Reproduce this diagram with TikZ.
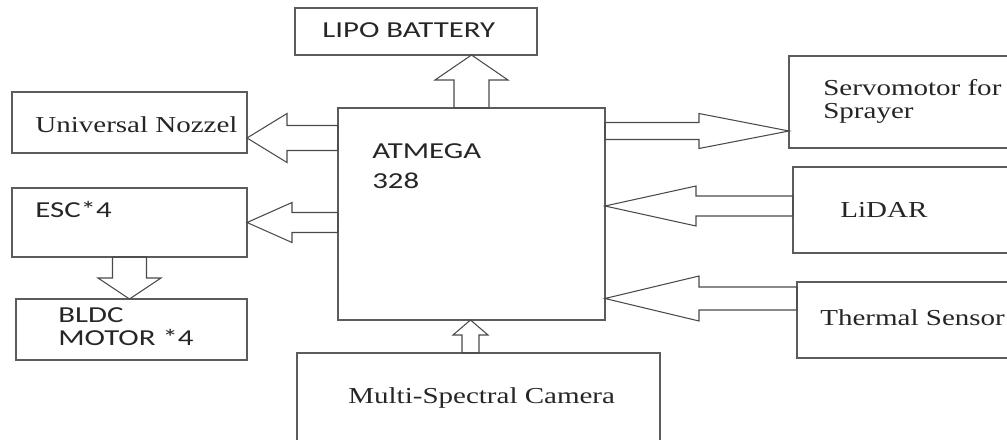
\documentclass[tikz,border=0pt]{standalone}
\usepackage{fontspec}
\newfontfamily\boxsans[FakeStretch=1.35]{Carlito}
\newfontfamily\boxserif[FakeStretch=1.27]{Liberation Serif}
\usetikzlibrary{calc}
\definecolor{edgegray}{HTML}{5C5C5C}
\definecolor{arrowgray}{HTML}{4A4A4A}
\definecolor{labelgray}{HTML}{262626}
\tikzset{
  unit/.style={draw=edgegray,line width=0.8pt,inner sep=0pt,outer sep=0pt},
  sanslbl/.style={font=\boxsans\fontsize{13}{17}\selectfont,text=labelgray,anchor=west,align=left,inner sep=0pt},
  seriflbl/.style={font=\boxserif\fontsize{13}{13}\selectfont,text=labelgray,anchor=west,align=left,inner sep=0pt},
  blockarr/.style={draw=arrowgray,line width=0.6pt,line join=miter}
}
% block arrow: from, to, half shaft, half head, head length
\newcommand{\fatarrow}[5]{%
  \coordinate (fa-b) at ($(#2)!#5!(#1)$);
  \draw[blockarr] ($(#1)!#3!90:(#2)$) -- ($(fa-b)!#3!90:(#2)$) -- ($(fa-b)!#4!90:(#2)$) -- (#2)
    -- ($(fa-b)!#4!-90:(#2)$) -- ($(fa-b)!#3!-90:(#2)$) -- ($(#1)!#3!-90:(#2)$) -- cycle;
}

\begin{document}
\begin{tikzpicture}[x=0.2mm,y=-0.2mm]
\path[use as bounding box] (0,0) rectangle (1007,439);
\clip (0,0) rectangle (1007,439);
% boxes
\node[unit,minimum width=48.4mm,minimum height=9.4mm] (bat) at (416,31.5) {};
\node[unit,minimum width=53.4mm,minimum height=42.4mm] (atm) at (471.5,214) {};
\node[unit,minimum width=47mm,minimum height=12.2mm] (noz) at (129.5,122.5) {};
\node[unit,minimum width=47mm,minimum height=13.8mm] (esc) at (129.5,222.5) {};
\node[unit,minimum width=46.2mm,minimum height=12.2mm] (bldc) at (131.5,329.5) {};
\node[unit,minimum width=72.6mm,minimum height=17.8mm] (cam) at (478.5,397.5) {};
\node[unit,minimum width=44.6mm,minimum height=18.4mm] (servo) at (900.5,102) {};
\node[unit,minimum width=43.8mm,minimum height=17.2mm] (lidar) at (902.5,210) {};
\node[unit,minimum width=43mm,minimum height=15.2mm] (therm) at (904.5,320) {};
% labels
\node[sanslbl] (bat-t) at ($(bat.west)+(27,-1.5)$) {LIPO BATTERY};
\node[sanslbl] (atm-t) at ($(atm.west)+(34,-48)$) {ATMEGA\\328};
\node[seriflbl] (noz-t) at ($(noz.west)+(23,2.5)$) {Universal Nozzel};
\node[sanslbl] (esc-t) at ($(esc.west)+(23,-13.5)$) {ESC*4};
\node[sanslbl,font=\boxsans\fontsize{13}{13}\selectfont] (bldc-t) at ($(bldc.west)+(42,-3)$) {BLDC\\MOTOR *4};
\node[seriflbl] (cam-t) at ($(cam.west)+(51,0.5)$) {Multi-Spectral Camera};
\node[seriflbl] (servo-t) at ($(servo.west)+(34,-0.5)$) {Servomotor for\\Sprayer};
\node[seriflbl] (lidar-t) at ($(lidar.west)+(47,0)$) {LiDAR};
\node[seriflbl] (therm-t) at ($(therm.west)+(23,-2)$) {Thermal Sensor};
% arrow ends
\coordinate (bat-in) at (atm.north |- bat.south);
\coordinate (noz-in) at ($(noz.east)+(0,15.5)$);
\coordinate (noz-out) at (atm.west |- noz-in);
\coordinate (esc-out) at (atm.west |- esc.east);
\coordinate (bldc-in) at (esc.south |- bldc.north);
\coordinate (servo-in) at ($(servo.west)+(0,29)$);
\coordinate (servo-out) at (atm.east |- servo-in);
\coordinate (lidar-out) at ($(lidar.west)+(0,-4)$);
\coordinate (lidar-in) at (atm.east |- lidar-out);
\coordinate (therm-out) at ($(therm.west)+(0,-21.5)$);
\coordinate (therm-in) at (atm.east |- therm-out);
\coordinate (cam-out) at ($(cam.north)+(-8,0)$);
\coordinate (cam-in) at (cam-out |- atm.south);
% arrows
\fatarrow{atm.north}{bat-in}{3.5mm}{7.3mm}{5mm}
\fatarrow{noz-out}{noz-in}{2.5mm}{4.9mm}{8mm}
\fatarrow{esc-out}{esc.east}{2mm}{4mm}{9mm}
\fatarrow{esc.south}{bldc-in}{3.4mm}{6.3mm}{4.2mm}
\fatarrow{servo-out}{servo-in}{1.7mm}{3.5mm}{18mm}
\fatarrow{lidar-out}{lidar-in}{2mm}{4mm}{18.2mm}
\fatarrow{therm-out}{therm-in}{2.3mm}{4.5mm}{18.8mm}
\fatarrow{cam-out}{cam-in}{1.7mm}{3.5mm}{3mm}
\end{tikzpicture}
\end{document}
